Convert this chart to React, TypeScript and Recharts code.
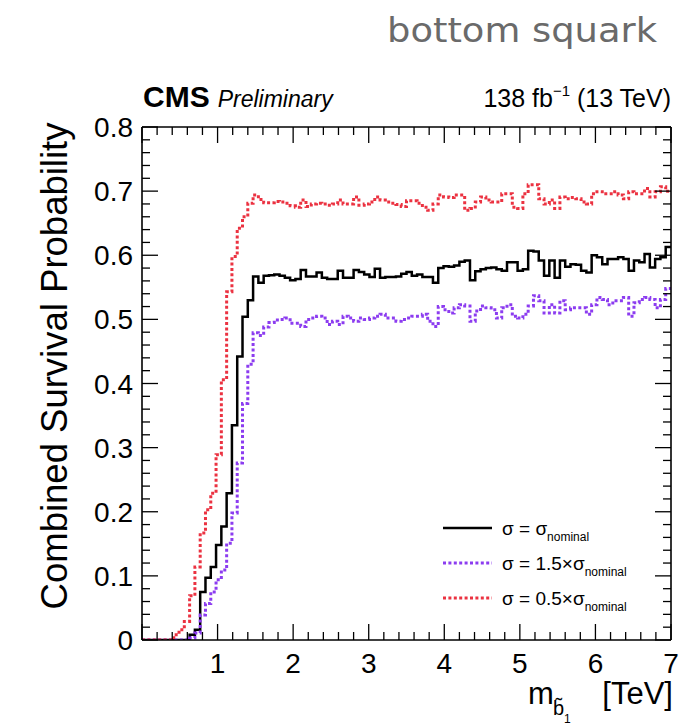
import { ComposedChart, Line, XAxis, YAxis, Legend } from "recharts";

// bin width of the histogram, TeV (100 bins from 0 to 7)
const BIN_WIDTH = 0.07;
const X_MAX = 7;

// survival probability per bin, sigma = sigma_nominal
const nominal = [
    0, 0, 0, 0, 0, 0, 0, 0, 0, 0.008,
    0.016, 0.075, 0.097, 0.114, 0.148, 0.177, 0.229, 0.335, 0.442, 0.504,
    0.53, 0.567, 0.557, 0.568, 0.569, 0.57, 0.568, 0.565, 0.561, 0.563,
    0.577, 0.567, 0.567, 0.573, 0.565, 0.563, 0.563, 0.576, 0.565, 0.565,
    0.577, 0.574, 0.57, 0.566, 0.579, 0.565, 0.566, 0.566, 0.567, 0.571,
    0.574, 0.568, 0.57, 0.566, 0.566, 0.557, 0.58, 0.583, 0.582, 0.584,
    0.59, 0.592, 0.561, 0.575, 0.578, 0.58, 0.581, 0.578, 0.576, 0.589,
    0.589, 0.576, 0.578, 0.607, 0.606, 0.592, 0.568, 0.592, 0.565, 0.592,
    0.582, 0.586, 0.585, 0.576, 0.573, 0.6, 0.597, 0.586, 0.594, 0.594,
    0.597, 0.594, 0.576, 0.592, 0.589, 0.602, 0.581, 0.594, 0.597, 0.613,
];

// sigma = 1.5 x sigma_nominal
const high = [
    0, 0, 0, 0, 0, 0, 0, 0, 0, 0.003,
    0.011, 0.039, 0.057, 0.075, 0.094, 0.109, 0.151, 0.198, 0.276, 0.369,
    0.43, 0.479, 0.475, 0.488, 0.495, 0.499, 0.5, 0.502, 0.494, 0.494,
    0.489, 0.5, 0.502, 0.505, 0.502, 0.492, 0.497, 0.492, 0.505, 0.502,
    0.497, 0.502, 0.5, 0.502, 0.505, 0.508, 0.502, 0.502, 0.497, 0.5,
    0.502, 0.505, 0.505, 0.508, 0.497, 0.489, 0.52, 0.515, 0.51, 0.518,
    0.523, 0.521, 0.497, 0.513, 0.521, 0.518, 0.515, 0.502, 0.518, 0.523,
    0.505, 0.502, 0.508, 0.521, 0.537, 0.529, 0.51, 0.523, 0.51, 0.529,
    0.515, 0.518, 0.518, 0.518, 0.508, 0.523, 0.534, 0.531, 0.523, 0.529,
    0.529, 0.534, 0.505, 0.526, 0.531, 0.534, 0.531, 0.518, 0.531, 0.548,
];

// sigma = 0.5 x sigma_nominal
const low = [
    0, 0, 0, 0, 0, 0, 0.008, 0.016, 0.029, 0.069,
    0.114, 0.167, 0.203, 0.229, 0.289, 0.406, 0.543, 0.598, 0.642, 0.66,
    0.681, 0.694, 0.687, 0.682, 0.682, 0.684, 0.683, 0.681, 0.677, 0.675,
    0.686, 0.676, 0.68, 0.681, 0.68, 0.678, 0.68, 0.686, 0.68, 0.68,
    0.691, 0.678, 0.68, 0.683, 0.691, 0.686, 0.683, 0.681, 0.679, 0.676,
    0.685, 0.685, 0.681, 0.675, 0.67, 0.68, 0.694, 0.691, 0.69, 0.694,
    0.694, 0.67, 0.673, 0.683, 0.691, 0.686, 0.683, 0.683, 0.696, 0.696,
    0.675, 0.673, 0.696, 0.71, 0.71, 0.688, 0.68, 0.686, 0.673, 0.691,
    0.688, 0.69, 0.688, 0.683, 0.68, 0.696, 0.699, 0.696, 0.696, 0.699,
    0.694, 0.688, 0.699, 0.696, 0.696, 0.704, 0.691, 0.699, 0.707, 0.7,
];

const xTickLabels = [1, 2, 3, 4, 5, 6, 7];
const yTickLabels = [0, 0.1, 0.2, 0.3, 0.4, 0.5, 0.6, 0.7, 0.8];
const X_MINOR = 0.2;
const Y_MINOR = 0.02;
const Y_MAX = 0.8;

const series = [
    { key: "nominal", color: "#000000", dash: undefined, width: 2.5, factor: "" },
    { key: "high", color: "#8c3cf0", dash: "3 2.4", width: 3, factor: "1.5×" },
    { key: "low", color: "#eb3241", dash: "3 2.4", width: 3, factor: "0.5×" },
];

// one row per bin lower edge, plus the upper edge of the last bin for the step line
const data = nominal.map((v, i) => ({
    m: +(i * BIN_WIDTH).toFixed(2),
    nominal: v,
    high: high[i],
    low: low[i],
}));
data.push({ m: X_MAX, nominal: nominal[99], high: high[99], low: low[99] });

const xTicks = Array.from({ length: Math.round(X_MAX / X_MINOR) + 1 }, (_, i) => +(i * X_MINOR).toFixed(2));
const yTicks = Array.from({ length: Math.round(Y_MAX / Y_MINOR) + 1 }, (_, i) => +(i * Y_MINOR).toFixed(2));

const FONT = "'Liberation Sans', Arial, Helvetica, sans-serif";

const isMajorX = (v: number) => Math.abs(v - Math.round(v)) < 1e-6;
const isMajorY = (v: number) => yTickLabels.some((t) => Math.abs(t - v) < 1e-6);

function AxisTick(props: any) {
    const { x, y, payload, side } = props;
    const v = payload.value;
    if (side === "left" || side === "right") {
        const len = isMajorY(v) ? 16 : 8;
        const dir = side === "left" ? 1 : -1;
        return (
            <g>
                <line x1={x} y1={y} x2={x + dir * len} y2={y} stroke="#000" strokeWidth={1.3} />
                {side === "left" && isMajorY(v) && (
                    <text x={x - 9} y={y + 10} textAnchor="end" fontSize={28} fontFamily={FONT} fill="#000">
                        {v === 0 ? "0" : v.toFixed(1)}
                    </text>
                )}
            </g>
        );
    }
    const len = isMajorX(v) ? 16 : 8;
    const dir = side === "bottom" ? -1 : 1;
    return (
        <g>
            <line x1={x} y1={y} x2={x} y2={y + dir * len} stroke="#000" strokeWidth={1.3} />
            {side === "bottom" && xTickLabels.includes(v) && (
                <text x={x} y={y + 33} textAnchor="middle" fontSize={28} fontFamily={FONT} fill="#000">
                    {v}
                </text>
            )}
        </g>
    );
}

function LegendBox() {
    return (
        <svg width={240} height={115} style={{ overflow: "visible" }}>
            {series.map((s, i) => (
                <g key={s.key} transform={`translate(0, ${20 + i * 35})`}>
                    <line x1={7} x2={56} y1={0} y2={0} stroke={s.color} strokeWidth={s.width} strokeDasharray={s.dash} />
                    <text x={66} y={7} fontSize={19} fontFamily={FONT} fill="#000">
                        {`σ = ${s.factor}σ`}
                        <tspan fontSize={12} dy={6}>nominal</tspan>
                    </text>
                </g>
            ))}
        </svg>
    );
}

// axes are 1px thick so Recharts still draws them; the plot frame is 142..671 x 127..640
const axisCommon = {
    type: "number" as const,
    allowDataOverflow: true,
    interval: 0 as const,
    tickSize: 0,
    tickMargin: 0,
    tickLine: false,
    axisLine: { stroke: "#000", strokeWidth: 1.6 },
};

export default function App() {
    return (
        <div style={{ position: "absolute", left: 0, top: 0, width: 698, height: 727, background: "#fff" }}>
            <ComposedChart
                width={698}
                height={727}
                data={data}
                margin={{ top: 126, right: 26, bottom: 86, left: 141 }}
            >
                <XAxis
                    {...axisCommon}
                    xAxisId="b"
                    dataKey="m"
                    domain={[0, X_MAX]}
                    ticks={xTicks}
                    height={1}
                    tick={(p: any) => <AxisTick {...p} side="bottom" />}
                />
                <XAxis
                    {...axisCommon}
                    xAxisId="t"
                    orientation="top"
                    dataKey="m"
                    domain={[0, X_MAX]}
                    ticks={xTicks}
                    height={1}
                    tick={(p: any) => <AxisTick {...p} side="top" />}
                />
                <YAxis
                    {...axisCommon}
                    yAxisId="l"
                    domain={[0, Y_MAX]}
                    ticks={yTicks}
                    width={1}
                    tick={(p: any) => <AxisTick {...p} side="left" />}
                />
                <YAxis
                    {...axisCommon}
                    yAxisId="r"
                    orientation="right"
                    domain={[0, Y_MAX]}
                    ticks={yTicks}
                    width={1}
                    tick={(p: any) => <AxisTick {...p} side="right" />}
                />
                {series.map((s) => (
                    <Line
                        key={s.key}
                        xAxisId="b"
                        yAxisId="l"
                        type="stepAfter"
                        dataKey={s.key}
                        stroke={s.color}
                        strokeWidth={s.width}
                        strokeDasharray={s.dash}
                        dot={false}
                        activeDot={false}
                        isAnimationActive={false}
                    />
                ))}
                <Legend
                    layout="horizontal"
                    verticalAlign="middle"
                    align="center"
                    content={() => <LegendBox />}
                    wrapperStyle={{ left: 436, top: 508, width: 240, height: 115 }}
                />
            </ComposedChart>

            <svg
                width={698}
                height={727}
                style={{ position: "absolute", left: 0, top: 0, pointerEvents: "none" }}
            >
                <text x={387} y={42} fontSize={34} fontFamily="'DejaVu Sans', sans-serif" fill="#6a6a6a" textLength={270} lengthAdjust="spacingAndGlyphs">
                    bottom squark
                </text>
                <text x={143} y={107} fontFamily={FONT} fill="#000">
                    <tspan fontSize={30} fontWeight="bold">CMS</tspan>
                    <tspan fontSize={23} fontStyle="italic" dx={8}>Preliminary</tspan>
                </text>
                <text x={671} y={107} textAnchor="end" fontFamily={FONT} fontSize={25} fill="#000">
                    138 fb
                    <tspan fontSize={15} dy={-11}>−1</tspan>
                    <tspan dy={11}> (13 TeV)</tspan>
                </text>
                <text
                    transform="translate(67, 366) rotate(-90)"
                    textAnchor="middle"
                    fontSize={36.5}
                    fontFamily={FONT}
                    fill="#000"
                >
                    Combined Survival Probability
                </text>
                <text x={673} y={704} textAnchor="end" fontSize={31} fontFamily={FONT} fill="#000">
                    [TeV]
                </text>
                <text x={528} y={704} fontSize={31} fontFamily={FONT} fill="#000">
                    m
                </text>
                <text x={553} y={715} fontSize={20} fontFamily={FONT} fill="#000">
                    b̃
                </text>
                <text x={564} y={723} fontSize={12} fontFamily={FONT} fill="#000">
                    1
                </text>
            </svg>
        </div>
    );
}
